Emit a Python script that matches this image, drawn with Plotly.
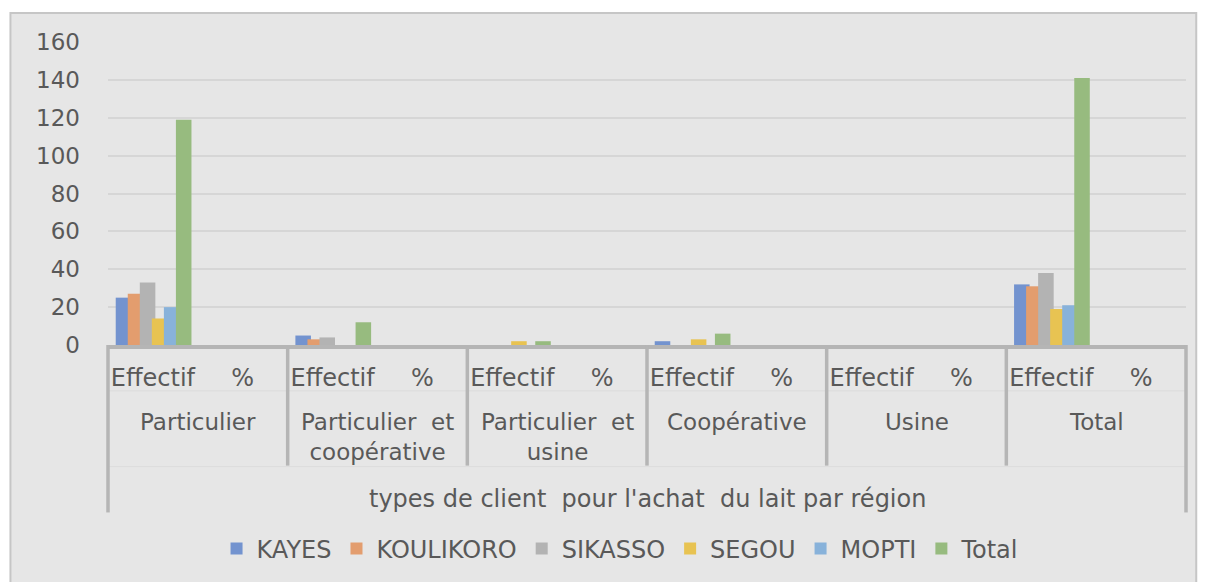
import plotly.graph_objects as go

groups = ["Particulier", "Particulier  et<br>coopérative", "Particulier  et<br>usine", "Coopérative", "Usine", "Total"]
subs = ["Effectif", "%"]
axis_title = "types de client  pour l'achat  du lait par région"

series_names = ["KAYES", "KOULIKORO", "SIKASSO", "SEGOU", "MOPTI", "Total"]
kayes = [25, 5, 0, 2, 0, 32]
koulikoro = [27, 3, 0, 0, 0, 31]
sikasso = [33, 4, 0, 0, 0, 38]
segou = [14, 0, 2, 3, 0, 19]
mopti = [20, 0, 0, 0, 0, 21]
total = [119, 12, 2, 6, 0, 141]
series_values = [kayes, koulikoro, sikasso, segou, mopti, total]
colors = ["#7393cf", "#e39d6e", "#b3b3b3", "#e8c352", "#88b2da", "#97bb7f"]

cats = [f"{g.replace('<br>', ' ')} | {s}" for g in groups for s in subs]
ticktext = [s for g in groups for s in subs]

FONT = "DejaVu Sans"
TXT = "#595959"
LINE = "#b5b5b5"
BG = "#e6e6e6"

fig = go.Figure()
n = len(series_names)
bw = 0.173
step = 0.134
start = -0.414
for i, (name, vals) in enumerate(zip(series_names, series_values)):
    y = []
    for v in vals:
        y.extend([v, None])
    fig.add_trace(go.Bar(
        x=cats, y=y, name=name,
        marker=dict(color=colors[i], line=dict(width=0)),
        offset=start + step * i, width=bw,
    ))

shapes = []
shapes.append(dict(type="rect", xref="paper", yref="paper",
                   x0=-0.0905, x1=1.0095, y0=-0.85, y1=1.0955,
                   fillcolor=BG, line=dict(color="#c6c6c6", width=2), layer="below"))
ng = len(groups)
y_axis_px = 346
plot_h = 304
def py(p):
    return (y_axis_px - p) / plot_h
for k in range(ng + 1):
    xp = k / ng
    bottom = py(514) if k in (0, ng) else py(467)
    shapes.append(dict(type="line", xref="paper", yref="paper",
                       x0=xp, x1=xp, y0=0, y1=bottom,
                       line=dict(color=LINE, width=3.5), layer="above"))
for yy in (392, 468):
    shapes.append(dict(type="line", xref="paper", yref="paper",
                       x0=0, x1=1, y0=py(yy), y1=py(yy),
                       line=dict(color="#dcdcdc", width=1), layer="below"))

annotations = []
for k, g in enumerate(groups):
    annotations.append(dict(x=(k + 0.5) / ng, y=py(408), xref="paper", yref="paper",
                            text=g, showarrow=False, xanchor="center", yanchor="top",
                            font=dict(family=FONT, size=23, color=TXT)))
annotations.append(dict(x=0.5, y=py(501), xref="paper", yref="paper",
                        text=axis_title, showarrow=False, xanchor="center", yanchor="middle",
                        font=dict(family=FONT, size=24, color=TXT)))

fig.update_layout(
    width=1209, height=582,
    margin=dict(l=108, r=23, t=42, b=236),
    paper_bgcolor="white", plot_bgcolor="rgba(0,0,0,0)",
    barmode="overlay",
    font=dict(family=FONT, color=TXT),
    shapes=shapes, annotations=annotations,
    showlegend=True,
    legend=dict(orientation="h", x=0.475, xanchor="center", y=py(549), yanchor="middle",
                font=dict(family=FONT, size=24, color=TXT), bgcolor="rgba(0,0,0,0)",
                itemwidth=30),
    xaxis=dict(type="category", categoryorder="array", categoryarray=cats,
               tickvals=cats, ticktext=ticktext, range=[-0.5, len(cats) - 0.5],
               showline=True, linecolor=LINE, linewidth=3.5, showgrid=False,
               ticks="", tickfont=dict(family=FONT, size=24, color=TXT),
               ticklabelstandoff=8, fixedrange=True),
    yaxis=dict(range=[0, 160], dtick=20, showgrid=True, gridcolor="#d6d6d6", gridwidth=1.5,
               zeroline=False, showline=False, ticks="",
               tickfont=dict(family=FONT, size=23, color=TXT), ticklabelstandoff=27),
)

fig.write_html("out.html")
